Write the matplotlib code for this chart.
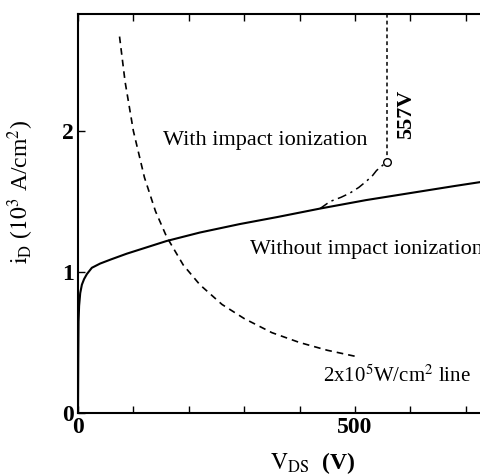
import matplotlib
matplotlib.use("Agg")
import matplotlib.pyplot as plt

plt.rcParams["font.family"] = ["Liberation Serif", "DejaVu Serif"]
plt.rcParams["mathtext.fontset"] = "stix"

# curve without impact ionization (V, i_D in 10^3 A/cm^2)
v_no = [0, 0.5, 1, 2, 4, 7, 11, 16, 25, 40, 60, 88, 120, 160, 220, 292, 360, 437, 520, 600, 680, 730, 800]
i_no = [0.0, 0.4, 0.65, 0.76, 0.85, 0.91, 0.95, 0.985, 1.03, 1.06, 1.09, 1.13, 1.17, 1.22, 1.28, 1.34, 1.39, 1.45, 1.51, 1.56, 1.61, 1.64, 1.68]

# branch with impact ionization, up to breakdown
v_ii = [437, 455, 475, 491, 507, 521, 532, 539, 548, 557]
i_ii = [1.45, 1.50, 1.53, 1.56, 1.60, 1.645, 1.685, 1.72, 1.75, 1.78]
v_bd = 557
i_bd = 1.78

# 2x10^5 W/cm^2 power line
v_pw = [75, 85, 100, 120, 140, 160, 190, 220, 260, 300, 350, 400, 450, 503]
i_pw = [2.67, 2.35, 2.0, 1.67, 1.43, 1.25, 1.05, 0.91, 0.77, 0.67, 0.57, 0.50, 0.445, 0.40]

x_ticks = list(range(0, 1301, 100))
x_ticklabels = ["0", "", "", "", "", "500", "", "", "", "", "", "", "", ""]
y_ticks = [0, 1, 2]

fig = plt.figure(figsize=(4.8, 4.76), dpi=100)
ax = fig.add_axes([78 / 480, 1 - 413 / 476, 730 / 480, 399 / 476])

ax.plot(v_no, i_no, color="black", lw=1.5)
ax.plot(v_ii, i_ii, color="black", lw=1.1, linestyle=(0, (6, 3, 1.5, 3)))
ax.plot([v_bd, v_bd], [i_bd, 3.0], color="black", lw=1.1, linestyle=(0, (2.5, 2)))
ax.plot(v_pw, i_pw, color="black", lw=1.2, linestyle=(0, (4, 3)))
ax.plot([v_bd], [i_bd], marker="o", ms=5.5, mfc="white", mec="black", mew=1.0, zorder=5)

ax.set_xlim(0, 1318)
ax.set_ylim(0, 2.83)

ax.set_xticks(x_ticks)
ax.set_xticklabels(x_ticklabels)
ax.set_yticks(y_ticks)
ax.tick_params(direction="in", length=5, width=1.0, top=True, right=True,
               labelsize=17, pad=3)
for lab in ax.get_xticklabels() + ax.get_yticklabels():
    lab.set_fontweight("bold")
for sp in ax.spines.values():
    sp.set_linewidth(1.5)

ax.text(153, 1.93, "With impact ionization", fontsize=16, va="center", ha="left")
ax.text(310, 1.16, "Without impact ionization", fontsize=16, va="center", ha="left")
ax.text(443, 0.26, r"2x10$^5$W/cm$^2$ line", fontsize=15, va="center", ha="left")
ax.text(593, 2.12, "557V", fontsize=16, fontweight="bold", rotation=90,
        va="center", ha="center")

ax.set_xlabel(r"$\mathrm{V_{DS}}$  (V)", fontsize=17, fontweight="bold")
ax.xaxis.set_label_coords(235 / 730, -37 / 399)
ax.set_ylabel(r"$\mathrm{i_D}$ ($10^3$ A/cm$^2$)", fontsize=17)
ax.yaxis.set_label_coords(-42 / 730, 221 / 399)

fig.savefig("out.png", dpi=100)
